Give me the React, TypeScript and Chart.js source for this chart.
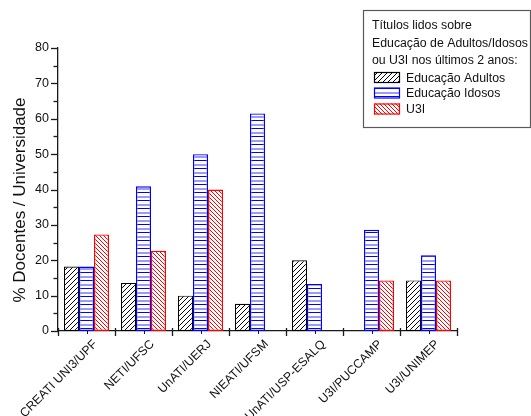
import { useEffect, useRef } from "react";
import { Chart, registerables } from "chart.js";

Chart.register(...registerables);

// Universities / programmes on the category axis
const categories = [
  "CREATI UNI3/UPF",
  "NETI/UFSC",
  "UnATI/UERJ",
  "NIEATI/UFSM",
  "UnATI/USP-ESALQ",
  "U3I/PUCCAMP",
  "U3I/UNIMEP",
];

const seriesNames = ["Educação Adultos", "Educação Idosos", "U3I"];

// % of faculty per university (null = no bar)
const adultos = [18.2, 13.6, 10.0, 7.7, 20.0, null, 14.3];
const idosos = [18.2, 40.9, 50.0, 61.5, 13.3, 28.6, 21.4];
const u3i = [27.3, 22.7, 40.0, null, null, 14.3, 14.3];

const legendTitle = [
  "Títulos lidos sobre",
  "Educação de Adultos/Idosos",
  "ou U3I nos últimos 2 anos:",
];

const yTitle = "% Docentes / Universidade";
const yMax = 80;
const yMajorStep = 10;
const yMinorStep = 5;

const FONT = "'Liberation Sans', Arial, Helvetica, sans-serif";
const AXIS = "#1a1a1a";

function makeHatch(kind: "fwd" | "back" | "horiz"): CanvasPattern {
  const c = document.createElement("canvas");
  const ctx = c.getContext("2d")!;
  if (kind === "horiz") {
    c.width = 8;
    c.height = 8;
    ctx.fillStyle = "#ffffff";
    ctx.fillRect(0, 0, 8, 8);
    ctx.fillStyle = "#0000ff";
    ctx.fillRect(0, 0, 8, 1);
    ctx.fillStyle = "#9a9aff";
    ctx.fillRect(0, 4, 8, 2);
  } else {
    const s = kind === "fwd" ? 5 : 4;
    c.width = s;
    c.height = s;
    ctx.fillStyle = "#ffffff";
    ctx.fillRect(0, 0, s, s);
    ctx.strokeStyle = kind === "fwd" ? "#000000" : "#ff0000";
    ctx.lineWidth = 1;
    ctx.beginPath();
    if (kind === "fwd") {
      ctx.moveTo(-1, s + 1);
      ctx.lineTo(s + 1, -1);
      ctx.moveTo(-1, 1);
      ctx.lineTo(1, -1);
      ctx.moveTo(s - 1, s + 1);
      ctx.lineTo(s + 1, s - 1);
    } else {
      ctx.moveTo(-1, -1);
      ctx.lineTo(s + 1, s + 1);
      ctx.moveTo(s - 1, -1);
      ctx.lineTo(s + 1, 1);
      ctx.moveTo(-1, s - 1);
      ctx.lineTo(1, s + 1);
    }
    ctx.stroke();
  }
  return ctx.createPattern(c, "repeat")!;
}

// Axis tick marks, rotated y title and the boxed legend
const decorPlugin = {
  id: "decor",
  afterDraw(chart: any) {
    const ctx: CanvasRenderingContext2D = chart.ctx;
    const { left, bottom } = chart.chartArea;
    const xs = chart.scales.x;
    const ys = chart.scales.y;
    ctx.save();
    ctx.strokeStyle = AXIS;
    ctx.lineWidth = 1.3;

    // y ticks: long at majors, short at minors
    for (let v = 0; v <= yMax; v += yMinorStep) {
      const py = Math.round(ys.getPixelForValue(v)) + 0.5;
      const len = v % yMajorStep === 0 ? 7 : 4.5;
      ctx.beginPath();
      ctx.moveTo(left - len, py);
      ctx.lineTo(left, py);
      ctx.stroke();
    }

    // x ticks: crossing marks at category boundaries, small marks at centres
    const n = categories.length;
    for (let i = 0; i <= n; i++) {
      const px = Math.round(xs.getPixelForValue(i - 0.5)) + 0.5;
      ctx.beginPath();
      ctx.moveTo(px, bottom - 3);
      ctx.lineTo(px, bottom + 5);
      ctx.stroke();
    }
    ctx.lineWidth = 1;
    for (let i = 0; i < n; i++) {
      const px = Math.round(xs.getPixelForValue(i)) + 0.5;
      ctx.beginPath();
      ctx.moveTo(px, bottom);
      ctx.lineTo(px, bottom + 3);
      ctx.stroke();
    }

    // y axis title
    ctx.save();
    ctx.translate(25, 200);
    ctx.rotate(-Math.PI / 2);
    ctx.fillStyle = "#111";
    ctx.font = `17px ${FONT}`;
    ctx.textAlign = "center";
    ctx.textBaseline = "alphabetic";
    ctx.fillText(yTitle, 0, 0);
    ctx.restore();

    // legend box
    ctx.strokeStyle = "#5a5a5a";
    ctx.lineWidth = 1.2;
    ctx.strokeRect(363.5, 10.5, 167, 117);
    ctx.fillStyle = "#111";
    ctx.font = `12.3px ${FONT}`;
    ctx.textAlign = "left";
    ctx.textBaseline = "middle";
    const titleY = [26, 43.5, 61];
    legendTitle.forEach((t, i) => ctx.fillText(t, 372, titleY[i]));

    const itemY = [77.5, 93, 109];
    chart.data.datasets.forEach((ds: any, i: number) => {
      const y0 = itemY[i] - 5.5;
      ctx.fillStyle = ds.backgroundColor;
      ctx.fillRect(374, y0, 26, 11);
      ctx.strokeStyle = ds.borderColor;
      ctx.lineWidth = 1.2;
      ctx.strokeRect(374.5, y0 + 0.5, 25, 10);
      ctx.fillStyle = "#111";
      ctx.fillText(ds.label, 406, itemY[i] + 1);
    });
    ctx.restore();
  },
};

export default function App() {
  const ref = useRef<HTMLCanvasElement>(null);

  useEffect(() => {
    document.body.style.margin = "0";
    const canvas = ref.current!;
    Chart.defaults.font.family = FONT;

    const chart = new Chart(canvas, {
      type: "bar",
      data: {
        labels: categories,
        datasets: [
          {
            label: seriesNames[0],
            data: adultos,
            backgroundColor: makeHatch("fwd"),
            borderColor: "#000000",
            borderWidth: 1.2,
            borderSkipped: false,
          },
          {
            label: seriesNames[1],
            data: idosos,
            backgroundColor: makeHatch("horiz"),
            borderColor: "#0000ff",
            borderWidth: 1.4,
            borderSkipped: false,
          },
          {
            label: seriesNames[2],
            data: u3i,
            backgroundColor: makeHatch("back"),
            borderColor: "#ff0000",
            borderWidth: 1.4,
            borderSkipped: false,
          },
        ] as any,
      },
      options: {
        responsive: false,
        animation: false,
        devicePixelRatio: 1,
        layout: { padding: { top: 48, right: 74, left: 0, bottom: 0 } },
        datasets: { bar: { categoryPercentage: 0.79, barPercentage: 1 } },
        plugins: {
          legend: { display: false },
          tooltip: { enabled: false },
        },
        scales: {
          x: {
            type: "category",
            offset: true,
            grid: { display: false, drawTicks: false },
            border: { display: true, color: AXIS, width: 1.3 },
            ticks: {
              autoSkip: false,
              maxRotation: 45,
              minRotation: 45,
              padding: 6,
              labelOffset: 9,
              color: "#111",
              font: { size: 12.3, family: FONT },
            },
            afterFit: (s: any) => {
              s.height = 85;
            },
          },
          y: {
            min: 0,
            max: yMax,
            grid: { display: false, drawTicks: false },
            border: { display: true, color: AXIS, width: 1.3 },
            ticks: {
              stepSize: yMajorStep,
              padding: 9,
              color: "#111",
              font: { size: 12.5, family: FONT },
            },
            afterFit: (s: any) => {
              s.width = 58;
            },
          },
        },
      },
      plugins: [decorPlugin],
    });

    return () => chart.destroy();
  }, []);

  return (
    <canvas
      ref={ref}
      width={531}
      height={416}
      style={{ display: "block", width: 531, height: 416 }}
    />
  );
}
